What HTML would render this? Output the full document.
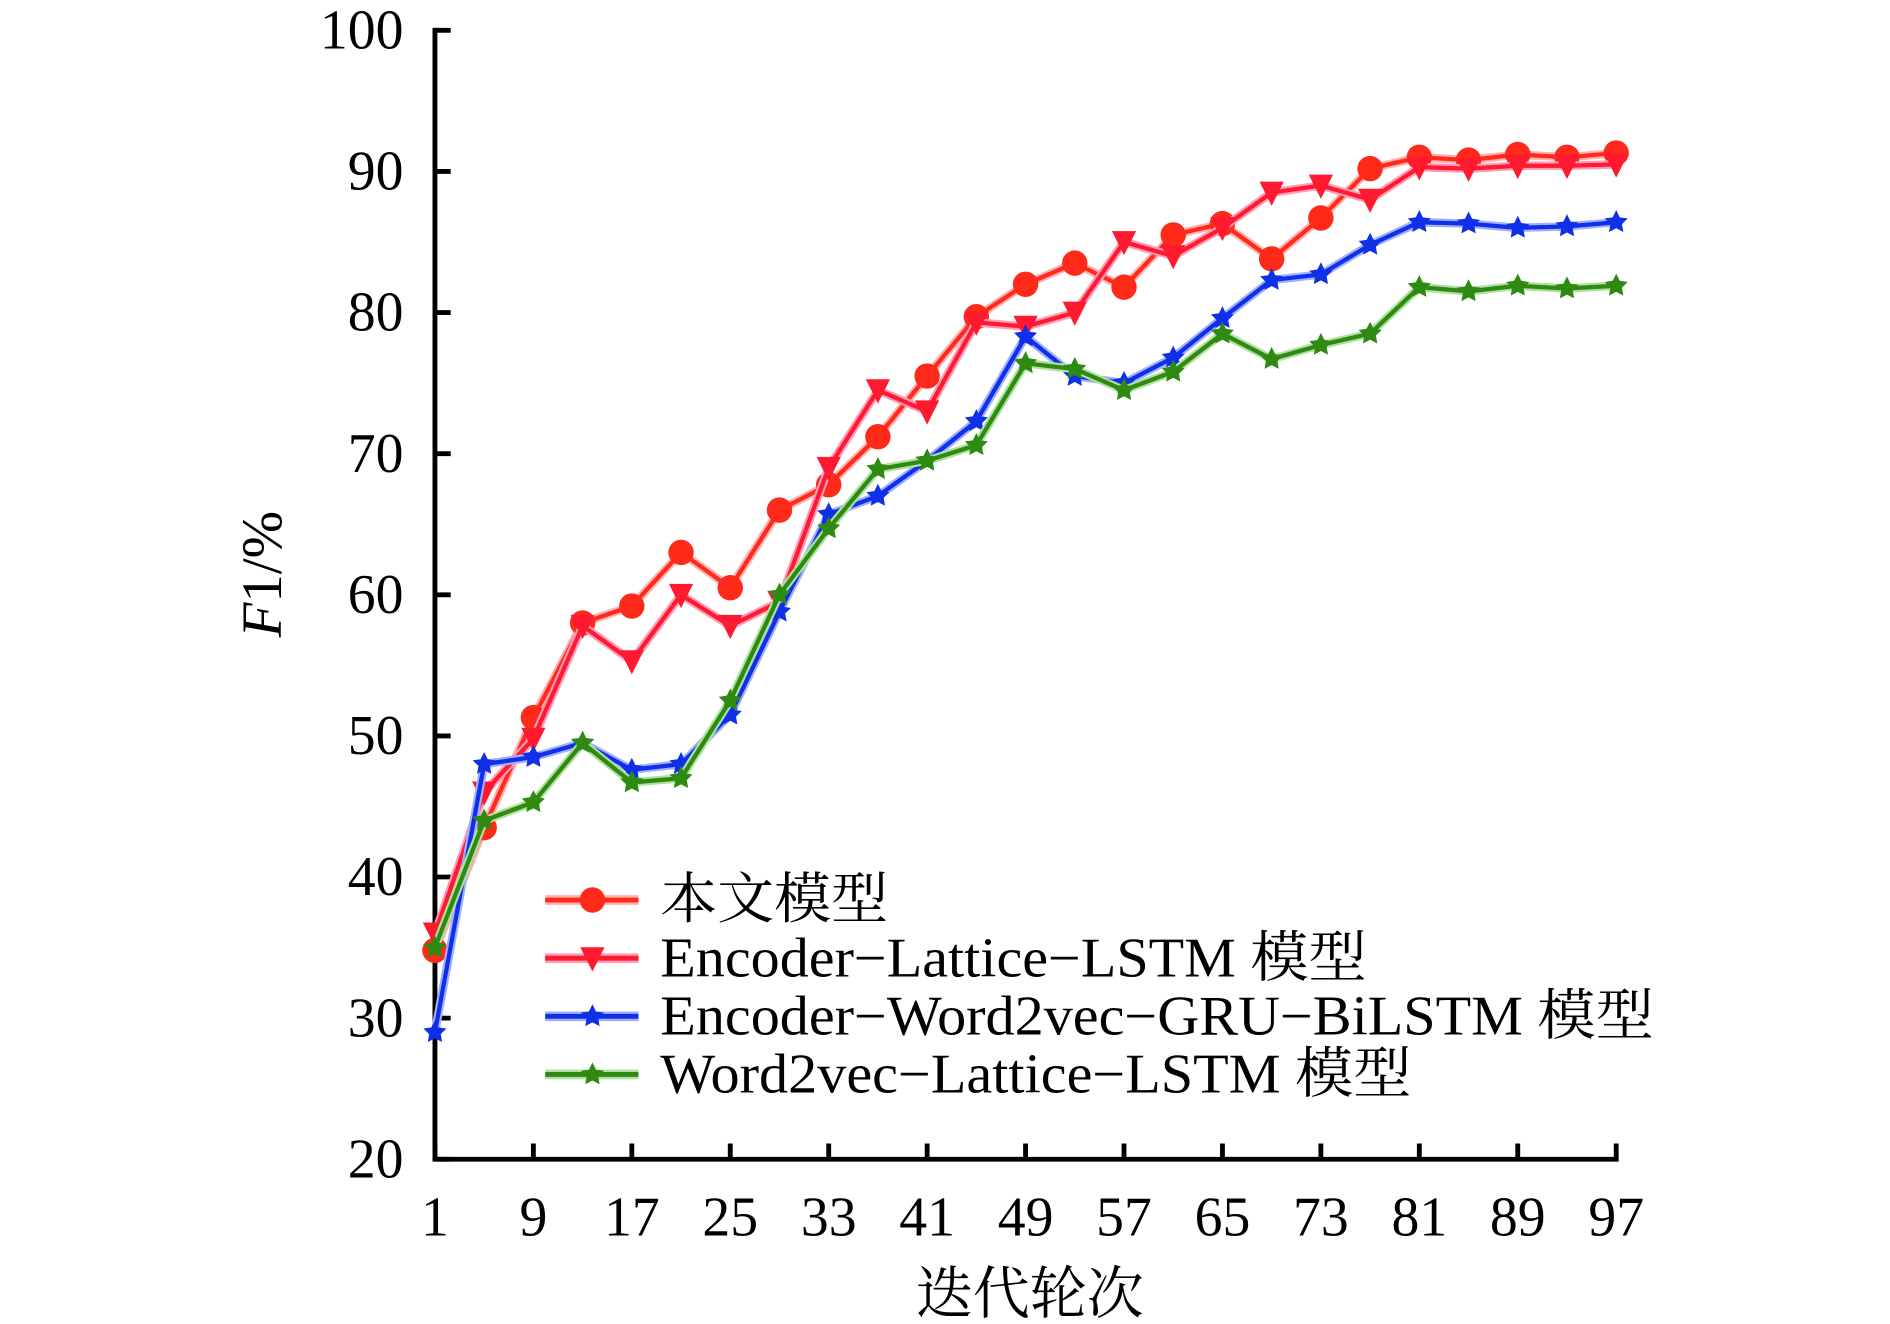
<!DOCTYPE html>
<html><head><meta charset="utf-8"><style>html,body{margin:0;padding:0;background:#fff;width:1890px;height:1324px;overflow:hidden}svg{display:block}</style></head>
<body>
<svg id="s" width="1890" height="1324" viewBox="0 0 1560 1093" preserveAspectRatio="none" xmlns="http://www.w3.org/2000/svg" font-family="'Liberation Serif','Noto Serif CJK SC',serif">
<g id="axes" stroke="#000" stroke-width="4" fill="none"></g>
<g id="t" font-size="46" fill="#000"></g>
<g id="d"></g>
<text x="232" y="474" font-size="47" transform="rotate(-90 232 474)" text-anchor="middle"><tspan font-style="italic">F</tspan>1/%</text>
<text x="850" y="1084" font-size="47" text-anchor="middle" font-family="'Noto Serif CJK SC',serif">迭代轮次</text>
</svg>
<script>
var NS="http://www.w3.org/2000/svg";
function el(p,n,a,txt){var e=document.createElementNS(NS,n);for(var k in a)e.setAttribute(k,a[k]);if(txt!=null)e.textContent=txt;p.appendChild(e);return e;}
var ax=document.getElementById('axes'),t=document.getElementById('t'),d=document.getElementById('d');
function Y(v){return 957-(v-20)*11.65;}
function X(e){return 359+(e-1)/96*975;}
el(ax,'path',{d:'M'+X(1)+','+(Y(100)-2)+' V'+Y(20)+' H'+(X(97)+2)});
for(var v=20;v<=100;v+=10){var y=Y(v);el(ax,'line',{x1:X(1),x2:X(1)+13,y1:y,y2:y});el(t,'text',{x:333,y:y+15,'text-anchor':'end'},v);}
[1,9,17,25,33,41,49,57,65,73,81,89,97].forEach(function(e){var x=X(e);el(ax,'line',{x1:x,x2:x,y1:Y(20),y2:Y(20)-13});el(t,'text',{x:x,y:1020,'text-anchor':'middle'},e);});
var S=[
{c:'#ff2a1a',h:'#ffb0b0',m:'o',v:[34.8,43.5,51.3,58,59.2,63,60.5,66,67.8,71.2,75.5,79.7,82,83.5,81.8,85.5,86.3,83.8,86.7,90.2,91,90.8,91.2,91,91.3]},
{c:'#ff1a30',h:'#ff9ab8',m:'v',v:[36,46,49.8,57.8,55.3,60,57.8,59.5,69,74.5,73,79.3,79,80,85,84,86,88.5,89,88,90.3,90.2,90.4,90.4,90.5]},
{c:'#1030e8',h:'#a0b0ff',m:'s',v:[29,48,48.5,49.5,47.6,48,51.5,58.8,65.7,67,69.5,72.3,78.3,75.5,75,76.8,79.6,82.3,82.7,84.8,86.4,86.3,86,86.1,86.4]},
{c:'#2e8a10',h:'#b0e0a0',m:'s',v:[35,44,45.3,49.5,46.7,47,52.5,60,64.7,68.9,69.5,70.6,76.4,76,74.5,75.8,78.5,76.7,77.7,78.5,81.8,81.5,81.9,81.7,81.9]}];
function star(x,y,r){var p=[];for(var i=0;i<10;i++){var a=-Math.PI/2+i*Math.PI/5,rr=i%2?r*0.5:r;p.push((x+rr*Math.cos(a)).toFixed(1)+','+(y+rr*Math.sin(a)).toFixed(1));}return p.join(' ');}
function mk(s,x,y,g){if(s.m=='o')el(g,'circle',{cx:x,cy:y,r:10.5,fill:s.c});else if(s.m=='v')el(g,'polygon',{points:(x-10)+','+(y-9)+' '+(x+10)+','+(y-9)+' '+x+','+(y+11),fill:s.c});else el(g,'polygon',{points:star(x,y,10),fill:s.c});}
S.forEach(function(s,i){var pts=s.v.map(function(v,j){return X(1+4*j)+','+Y(v);}).join(' ');
el(d,'polyline',{points:pts,fill:'none',stroke:s.h,'stroke-width':7,'stroke-linejoin':'round'});
el(d,'polyline',{points:pts,fill:'none',stroke:s.c,'stroke-width':3.5,'stroke-linejoin':'round'});
s.v.forEach(function(v,j){mk(s,X(1+4*j),Y(v),d);});
var ly=743+i*48;
el(d,'line',{x1:450,x2:527,y1:ly,y2:ly,stroke:s.h,'stroke-width':8});
el(d,'line',{x1:450,x2:527,y1:ly,y2:ly,stroke:s.c,'stroke-width':4});
mk(s,489,ly,d);});
var L=['本文模型','Encoder−Lattice−LSTM 模型','Encoder−Word2vec−GRU−BiLSTM 模型','Word2vec−Lattice−LSTM 模型'];
var W=[188,583,820,620];
L.forEach(function(txt,i){el(d,'text',{x:545,y:758+i*48,'font-size':46,fill:'#000',textLength:W[i],lengthAdjust:'spacingAndGlyphs'},txt);});
</script>
</body></html>
